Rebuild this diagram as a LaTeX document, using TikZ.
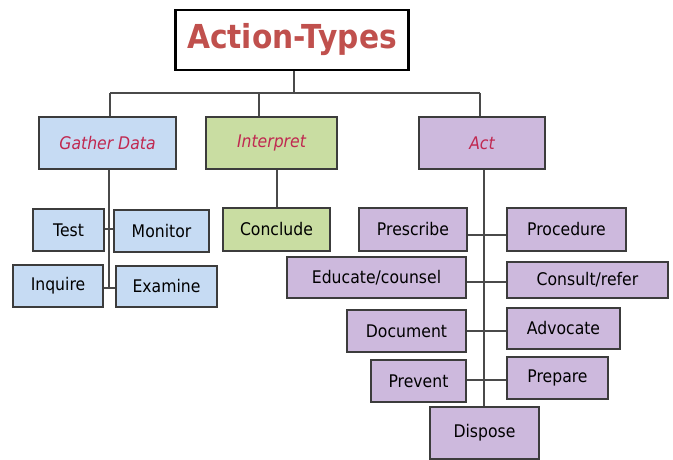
\documentclass[tikz,border=0pt]{standalone}
\usepackage{fontspec}
\setmainfont{DejaVu Sans}[FakeStretch=0.9]
\usetikzlibrary{calc}
\definecolor{bluefill}{HTML}{C6DBF3}
\definecolor{greenfill}{HTML}{C9DDA2}
\definecolor{purplefill}{HTML}{CDB9DD}
\definecolor{titlered}{HTML}{C0504D}
\definecolor{labelred}{HTML}{C02850}
\definecolor{boxline}{HTML}{3C3C3C}
\definecolor{connline}{HTML}{4A4A4A}
\tikzset{
  box/.style={draw=boxline, line width=1.3pt, inner sep=0pt, anchor=center,
    font=\fontsize{17.4}{20}\selectfont, text=black},
  bluebox/.style={box, fill=bluefill},
  greenbox/.style={box, fill=greenfill},
  purplebox/.style={box, fill=purplefill},
  headlabel/.style={text=labelred, font=\fontsize{17.4}{20}\selectfont\itshape},
  titlebox/.style={draw=black, line width=2.5pt, fill=white, inner sep=0pt,
    text=titlered, font=\fontsize{33}{38}\selectfont\bfseries},
  conn/.style={draw=connline, line width=1.1pt},
  sz/.style 2 args={minimum width=#1pt, minimum height=#2pt}
}
\begin{document}
\begin{tikzpicture}[x=1pt,y=-1pt]
\useasboundingbox (0,0) rectangle (673,460);
\fill[white] (0,0) rectangle (673,460);
% title
\node[titlebox, sz={233}{60}] (title) at (292,40) {Action-Types};
% level 1
\node[bluebox, headlabel, sz={137}{52}] (gather) at (107.5,143) {Gather Data};
\node[greenbox, headlabel, sz={131}{52}] (interp) at (271.5,143) {Interpret};
\node[purplebox, headlabel, sz={126}{52}] (act) at (482,143) {Act};
% gather data children
\node[bluebox, sz={71}{42}] (test) at (68.5,230) {Test};
\node[bluebox, sz={95}{42}] (monitor) at (161.5,231) {Monitor};
\node[bluebox, sz={90}{42}] (inquire) at (58,286) {Inquire};
\node[bluebox, sz={101}{41}] (examine) at (166.5,286.5) {Examine};
% interpret child
\node[greenbox, sz={107}{43}] (conclude) at (276.5,229.5) {Conclude};
% act children
\node[purplebox, sz={108}{43}] (prescribe) at (413,229.5) {Prescribe};
\node[purplebox, sz={119}{43}] (procedure) at (566.5,229.5) {Procedure};
\node[purplebox, sz={179}{41}] (educate) at (376.5,277.5) {Educate/counsel};
\node[purplebox, sz={161}{36}] (consult) at (587.5,280) {Consult/refer};
\node[purplebox, sz={119}{42}] (document) at (406.5,331) {Document};
\node[purplebox, sz={113}{41}] (advocate) at (563.5,328.5) {Advocate};
\node[purplebox, sz={95}{42}] (prevent) at (418.5,381) {Prevent};
\node[purplebox, sz={101}{42}] (prepare) at (557.5,378) {Prepare};
\node[purplebox, sz={109}{52}] (dispose) at (484.5,433) {Dispose};
% bus coordinates
\coordinate (bt) at (294,93);
\coordinate (bg) at (110,93);
\coordinate (bi) at (259,93);
\coordinate (ba) at (480,93);
\coordinate (gv) at (109,0);
\coordinate (iv) at (277,0);
\coordinate (av) at (484,0);
% connectors
\draw[conn] (bt |- title.south) -- (bt);
\draw[conn] (bg) -- (ba);
\draw[conn] (bg) -- (bg |- gather.north);
\draw[conn] (bi) -- (bi |- interp.north);
\draw[conn] (ba) -- (ba |- act.north);
% gather
\draw[conn] (gv |- gather.south) -- (gv |- 0,288);
\draw[conn] (test.east |- 0,229) -- (monitor.west |- 0,229);
\draw[conn] (inquire.east |- 0,288) -- (examine.west |- 0,288);
% interpret
\draw[conn] (iv |- interp.south) -- (iv |- conclude.north);
% act
\draw[conn] (av |- act.south) -- (av |- dispose.north);
\draw[conn] (prescribe.east |- 0,235) -- (procedure.west |- 0,235);
\draw[conn] (educate.east |- 0,282) -- (consult.west |- 0,282);
\draw[conn] (document.east |- 0,331) -- (advocate.west |- 0,331);
\draw[conn] (prevent.east |- 0,380) -- (prepare.west |- 0,380);
\end{tikzpicture}
\end{document}
